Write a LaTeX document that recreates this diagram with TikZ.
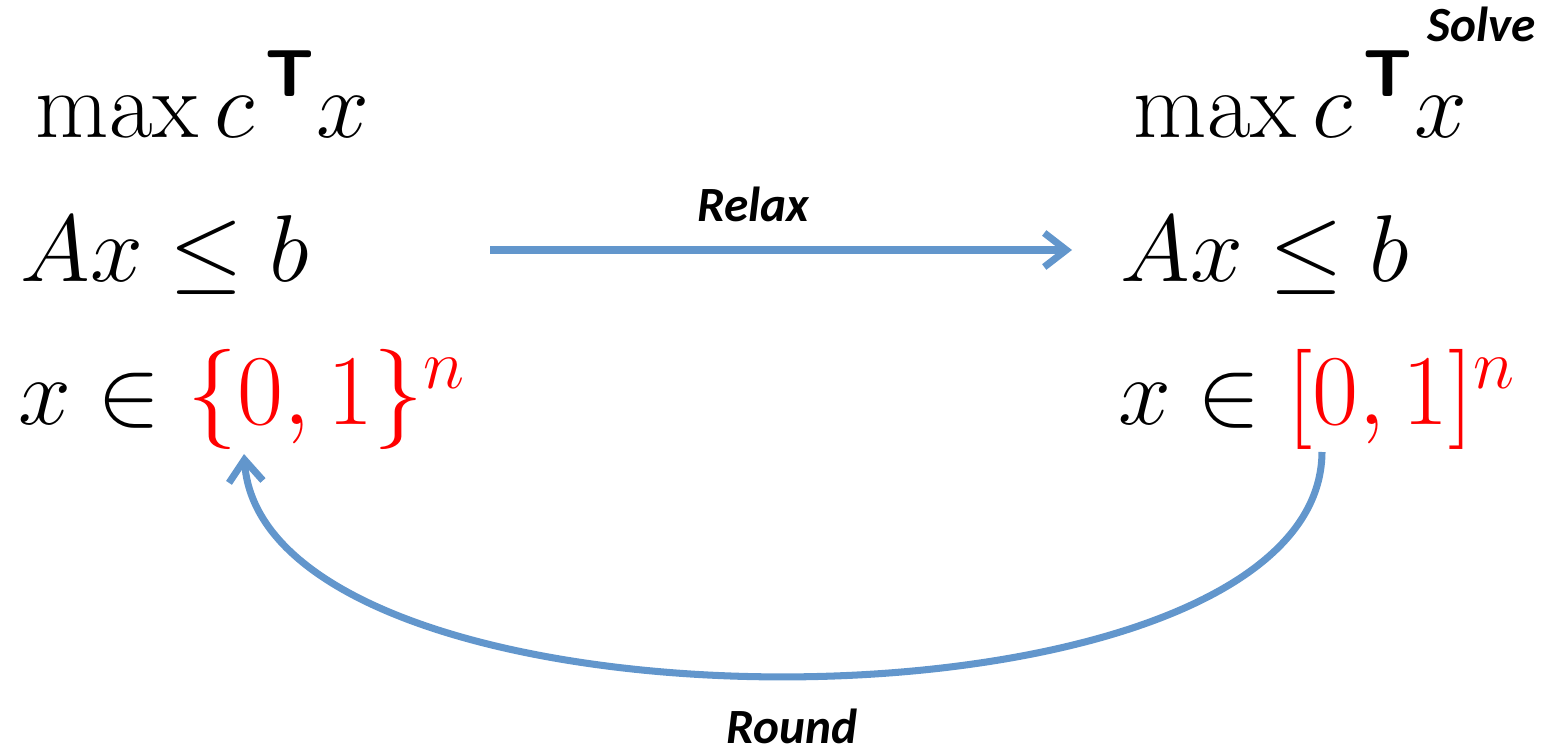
\documentclass[tikz,border=0pt]{standalone}
\usepackage{fix-cm}
\usepackage{amsmath}
\usepackage{fontspec}
\newfontfamily\labelfont{Carlito}
\usepackage{tikz}
\usetikzlibrary{arrows.meta}
\definecolor{arrowblue}{RGB}{98,150,204}
\newcommand{\tpose}{\text{\raisebox{0.25ex}{\sffamily\bfseries T}}}
\newcommand{\redset}[1]{\text{\color{red}\fontsize{28.5}{33}\selectfont$#1$}}

\begin{document}
\begin{tikzpicture}[x=0.01cm,y=-0.01cm,
  mathtxt/.style={anchor=base west,inner sep=0pt,font=\fontsize{27}{32}\selectfont},
  steplabel/.style={anchor=base,inner sep=0pt,font=\labelfont\fontsize{14}{17}\selectfont\bfseries\itshape},
  flow/.style={arrowblue,line width=2pt,-{Straight Barb[length=2.2mm,width=3.4mm,line width=2pt]}}]
  \useasboundingbox (0,0) rectangle (1557,755);
  % integer program
  \node[mathtxt] (ipobj) at (35,138) {$\max c^{\,\tpose} x$};
  \node[mathtxt] (ipcon) at (20,282) {$Ax \leq b$};
  \node[mathtxt] (ipdom) at (18,425) {$x \in \redset{\{0,1\}^n}$};
  % LP relaxation
  \node[mathtxt] (lpobj) at (1133,138) {$\max c^{\,\tpose} x$};
  \node[mathtxt] (lpcon) at (1120,282) {$Ax \leq b$};
  \node[mathtxt] (lpdom) at (1118,425) {$x \in \redset{[0,1]^n}$};
  \node[steplabel] (solve) at (1482,42) {Solve};
  \node[steplabel] (relax) at (753,222) {Relax};
  \node[steplabel] (round) at (792,744) {Round};
  % arrows
  \coordinate (relaxA) at (490,250);
  \coordinate (relaxB) at (1072,250);
  \coordinate (roundA) at (1322,452);
  \coordinate (roundB) at (244,454);
  \draw[flow] (relaxA) -- (relaxB);
  \draw[flow] (roundA) .. controls (1320,750) and (265,750) .. (roundB);
\end{tikzpicture}
\end{document}
